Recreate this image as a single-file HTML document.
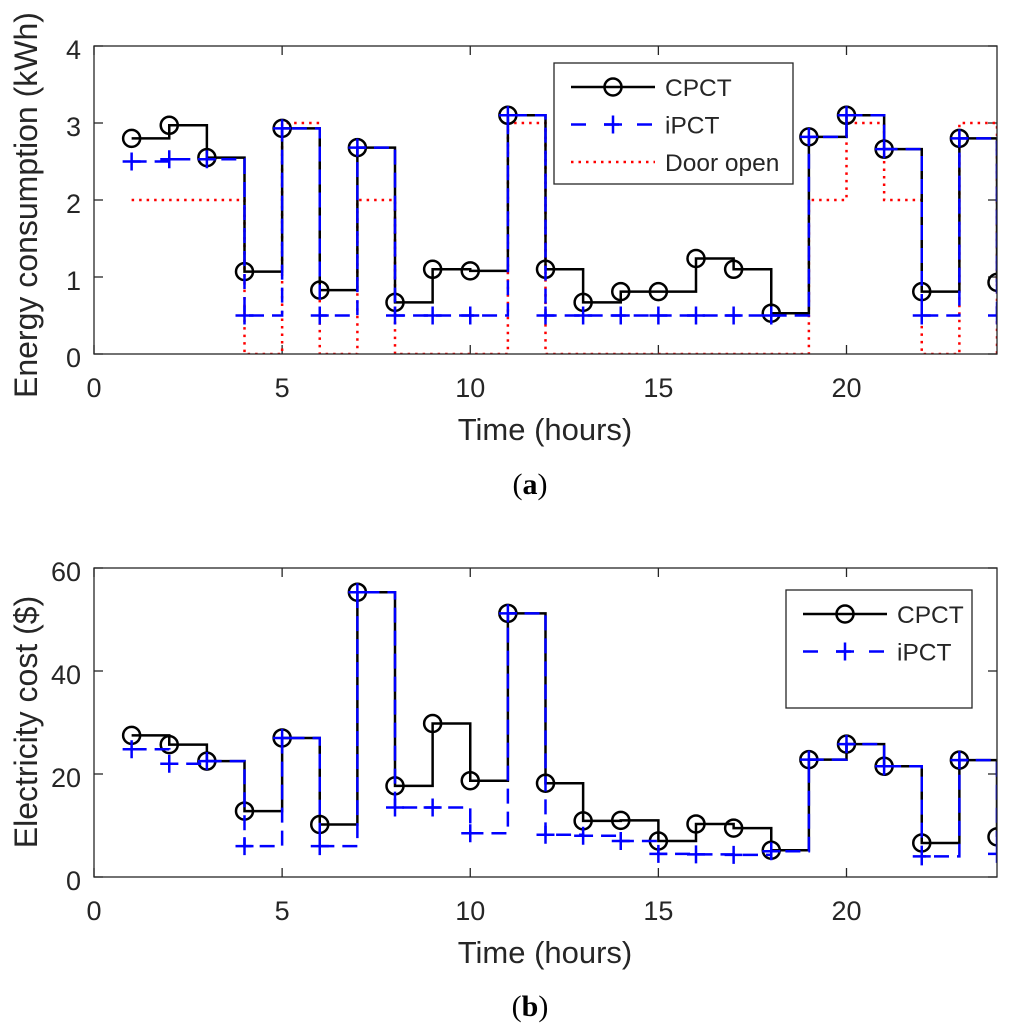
<!DOCTYPE html>
<html><head><meta charset="utf-8"><style>
body{margin:0;background:#fff}
svg{display:block}
text{font-family:"Liberation Sans",sans-serif;fill:#262626}
text.cap{font-family:"Liberation Serif",serif;fill:#000}
</style></head><body>
<svg id="s" width="1024" height="1030" viewBox="0 0 1024 1030" xmlns="http://www.w3.org/2000/svg"></svg>
<script>
const hours=[1,2,3,4,5,6,7,8,9,10,11,12,13,14,15,16,17,18,19,20,21,22,23,24];
const energyCPCT=[2.8,2.97,2.55,1.07,2.93,0.83,2.68,0.67,1.1,1.08,3.1,1.1,0.67,0.81,0.81,1.24,1.1,0.53,2.82,3.1,2.66,0.81,2.8,0.93];
const energyIPCT=[2.5,2.53,2.53,0.5,2.93,0.5,2.68,0.5,0.5,0.5,3.1,0.5,0.5,0.5,0.5,0.5,0.5,0.5,2.82,3.1,2.66,0.5,2.8,0.5];
const doorOpen=[2,2,2,0,3,0,2,0,0,0,3,0,0,0,0,0,0,0,2,3,2,0,3,0];
const costCPCT=[27.5,25.7,22.5,12.8,27,10.2,55.3,17.7,29.8,18.7,51.2,18.2,10.9,11,7,10.3,9.5,5.2,22.8,25.8,21.5,6.6,22.7,7.8];
const costIPCT=[24.8,22,22.5,6,27,6,55.3,13.5,13.5,8.5,51.2,8.2,8,7,4.5,4.4,4.3,5,22.8,25.8,21.5,4,22.7,4.5];
const xTicks=[0,5,10,15,20];
const yTicksA=[0,1,2,3,4];
const yTicksB=[0,20,40,60];

const svg=document.getElementById('s');
const NS='http://www.w3.org/2000/svg';
function el(tag,attrs,parent){const e=document.createElementNS(NS,tag);for(const k in attrs)e.setAttribute(k,attrs[k]);(parent||svg).appendChild(e);return e;}

function stairPath(xs,ys,sx,sy){let d='';for(let i=0;i<xs.length;i++){const x=sx(xs[i]),y=sy(ys[i]);d+=(i===0?'M':'L')+x+' '+y;if(i<xs.length-1)d+=' L'+sx(xs[i+1])+' '+y+' ';}return d;}

function panel(cfg){
  const L=94,R=997,T=cfg.top,B=cfg.bottom;
  const sx=v=>L+(v-0)/24*(R-L);
  const sy=v=>B-(v-cfg.ymin)/(cfg.ymax-cfg.ymin)*(B-T);
  const g=el('g',{});
  
  
  const clip=el('clipPath',{id:cfg.name+'-clip'},g);
  el('rect',{x:L,y:T,width:R-L,height:B-T},clip);
  xTicks.forEach(t=>{
    const tk=el('line',{x1:sx(t),x2:sx(t),y1:B,y2:B-9,stroke:'#262626','stroke-width':1.3},g);
    
    el('line',{x1:sx(t),x2:sx(t),y1:T,y2:T+9,stroke:'#262626','stroke-width':1.3},g);
    const tl=el('text',{x:sx(t),y:B+43,'font-size':27,'text-anchor':'middle'},g);tl.textContent=t;
    
  });
  cfg.yticks.forEach(t=>{
    el('line',{x1:L,x2:L+9,y1:sy(t),y2:sy(t),stroke:'#262626','stroke-width':1.3},g);
    el('line',{x1:R,x2:R-9,y1:sy(t),y2:sy(t),stroke:'#262626','stroke-width':1.3},g);
    const tl=el('text',{x:L-13,y:sy(t)+13,'font-size':27,'text-anchor':'end'},g);tl.textContent=t;
    
  });
  const data=el('g',{'clip-path':'url(#'+cfg.name+'-clip)'},g);
  if(cfg.door){
    const p=el('path',{d:stairPath(hours,cfg.door,sx,sy),fill:'none',stroke:'#ff0000','stroke-width':2.5,'stroke-dasharray':'2.5 5'},data);
    
  }
  const pc=el('path',{d:stairPath(hours,cfg.c,sx,sy),fill:'none',stroke:'#000','stroke-width':2.5},data);
  
  cfg.c.forEach((v,i)=>{
    const c=el('circle',{cx:sx(hours[i]),cy:sy(v),r:8.5,fill:'none',stroke:'#000','stroke-width':2.5},data);
    
  });
  const pi=el('path',{d:stairPath(hours,cfg.i,sx,sy),fill:'none',stroke:'#0000ff','stroke-width':2.5,'stroke-dasharray':'15 8'},data);
  
  cfg.i.forEach((v,i)=>{
    const x=sx(hours[i]),y=sy(v);
    const m=el('path',{d:`M${x-9} ${y}H${x+9}M${x} ${y-9}V${y+9}`,stroke:'#0000ff','stroke-width':2.5,fill:'none'},data);
    
  });
  const box=el('rect',{x:L,y:T,width:R-L,height:B-T,fill:'none',stroke:'#262626','stroke-width':1.3},g);
  
  const xt=el('text',{x:545,y:B+86,'font-size':31,'text-anchor':'middle'},g);xt.textContent='Time (hours)';
  
  const yt=el('text',{x:0,y:0,'font-size':32,'text-anchor':cfg.yanchor,transform:`translate(37,${cfg.ly}) rotate(-90)`},g);yt.textContent=cfg.ylabel;
  
  const cap=el('text',{x:530,y:cfg.capy,'font-size':30,'text-anchor':'middle','class':'cap'},g);
  cap.innerHTML='(<tspan font-weight="bold">'+cfg.cap+'</tspan>)';
  
  const lg=el('g',{},g);
  const lb=cfg.legend;
  el('rect',{x:lb.x,y:lb.y,width:lb.w,height:lb.h,fill:'#fff',stroke:'#262626','stroke-width':1.3},lg);
  const lx1=lb.x+17,lx2=lb.x+101,lm=(lx1+lx2)/2;
  const entries=[['CPCT','c'],['iPCT','i']];if(cfg.door)entries.push(['Door open','d']);
  entries.forEach((e,k)=>{
    const y=lb.y+24+k*37.5;
    const eg=el('g',{},lg);
    if(e[1]==='c'){el('line',{x1:lx1,x2:lx2,y1:y,y2:y,stroke:'#000','stroke-width':2.5},eg);el('circle',{cx:lm,cy:y,r:8.5,fill:'none',stroke:'#000','stroke-width':2.5},eg);}
    if(e[1]==='i'){el('line',{x1:lx1,x2:lx2,y1:y,y2:y,stroke:'#00f','stroke-width':2.5,'stroke-dasharray':'15 18'},eg);el('path',{d:`M${lm-9} ${y}H${lm+9}M${lm} ${y-9}V${y+9}`,stroke:'#00f','stroke-width':2.5},eg);}
    if(e[1]==='d'){el('line',{x1:lx1,x2:lx2,y1:y,y2:y,stroke:'#f00','stroke-width':2.5,'stroke-dasharray':'2.5 5'},eg);}
    const t=el('text',{x:lx2+10,y:y+9,'font-size':24.5},eg);t.textContent=e[0];
  });
}
panel({name:'energy-chart',top:46,bottom:354,ymin:0,ymax:4,yticks:yTicksA,c:energyCPCT,i:energyIPCT,door:doorOpen,ylabel:'Energy consumption (kWh)',yanchor:'start',ly:398,capy:494,cap:'a',legend:{x:554,y:63,w:239,h:121}});
panel({name:'cost-chart',top:568,bottom:877,ymin:0,ymax:60,yticks:yTicksB,c:costCPCT,i:costIPCT,door:null,ylabel:'Electricity cost ($)',yanchor:'middle',ly:722,capy:1016,cap:'b',legend:{x:786,y:590,w:186,h:118}});
</script>
</body></html>
